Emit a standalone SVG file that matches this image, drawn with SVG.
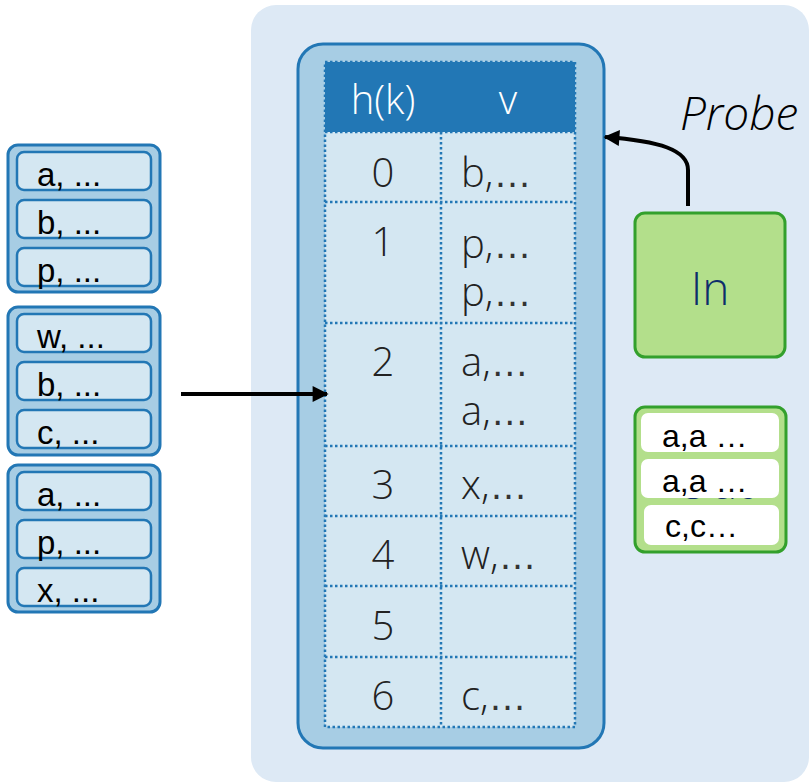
<svg xmlns="http://www.w3.org/2000/svg" width="810" height="783" viewBox="0 0 810 783">
<defs>
<style>
.lst{fill:#a7cde4;stroke:#2277b5;stroke-width:3}
.it{fill:#d4e7f2;stroke:#2277b5;stroke-width:2.5}
.lt{font-family:"Liberation Sans",Arial,sans-serif;font-size:33px;fill:#000}
.cell{fill:#d4e7f2}
.dot{stroke:#2277b5;stroke-width:2.5;stroke-dasharray:2.5 2.5;fill:none}
.tt{font-family:"Open Sans","Liberation Sans",sans-serif;font-weight:300;font-size:40px;fill:#222}
.el{font-family:"Liberation Sans",Arial,sans-serif;font-size:38px;fill:#333}
.hd{font-family:"Open Sans","Liberation Sans",sans-serif;font-weight:300;font-size:40px;fill:#fff}
.gbox{fill:#b3df8b;stroke:#33a02c;stroke-width:3}
.wb{fill:#fff}
.ot{font-family:"Liberation Sans",Arial,sans-serif;font-size:32px;fill:#000}
.conn{stroke:#000;stroke-width:4;fill:none}
</style>
<marker id="ah" viewBox="0 0 10 10" refX="9" refY="5" markerWidth="4.5" markerHeight="4" orient="auto" markerUnits="strokeWidth">
<path d="M0,0 L10,5 L0,10 z" fill="#000"/>
</marker>
</defs>
<rect id="panel" x="251" y="5" width="558" height="777" rx="25" fill="#dde9f5"/>

<g id="list1">
<rect class="lst" x="8" y="145" width="152" height="147" rx="10"/>
<g class="it"><rect x="17" y="152" width="134" height="38" rx="7"/><rect x="17" y="200" width="134" height="38" rx="7"/><rect x="17" y="248" width="134" height="38" rx="7"/></g>
<text class="lt" x="37" y="186">a, ...</text><text class="lt" x="37" y="234">b, ...</text><text class="lt" x="37" y="282">p, ...</text>
</g>
<g id="list2">
<rect class="lst" x="8" y="307" width="152" height="148" rx="10"/>
<g class="it"><rect x="17" y="314" width="134" height="38" rx="7"/><rect x="17" y="362" width="134" height="38" rx="7"/><rect x="17" y="410" width="134" height="38" rx="7"/></g>
<text class="lt" x="37" y="348">w, ...</text><text class="lt" x="37" y="396">b, ...</text><text class="lt" x="37" y="444">c, ...</text>
</g>
<g id="list3">
<rect class="lst" x="8" y="465" width="152" height="147" rx="10"/>
<g class="it"><rect x="17" y="472" width="134" height="38" rx="7"/><rect x="17" y="520" width="134" height="38" rx="7"/><rect x="17" y="568" width="134" height="38" rx="7"/></g>
<text class="lt" x="37" y="506">a, ...</text><text class="lt" x="37" y="554">p, ...</text><text class="lt" x="37" y="602">x, ...</text>
</g>

<g id="hashtable">
<rect x="298" y="44" width="306" height="704" rx="25" fill="#a7cde4" stroke="#2277b5" stroke-width="3"/>
<rect x="325" y="62" width="250" height="70" fill="#2277b5"/>
<rect class="cell" x="325" y="132" width="250" height="595"/>
<rect class="dot" x="325" y="62" width="250" height="665"/>
<path class="dot" d="M325,132H575M325,202H575M325,323H575M325,446H575M325,516H575M325,586H575M325,657H575M441,132V727"/>
<text class="hd" x="383" y="114" text-anchor="middle">h(k)</text>
<text class="hd" x="508" y="114" text-anchor="middle">v</text>
<g class="tt" text-anchor="middle">
<text x="383" y="187">0</text>
<text x="383" y="256">1</text>
<text x="383" y="376">2</text>
<text x="383" y="499">3</text>
<text x="383" y="569">4</text>
<text x="383" y="640">5</text>
<text x="383" y="710">6</text>
</g>
<g class="tt">
<text x="461" y="187">b,<tspan class="el">…</tspan></text>
<text x="461" y="258">p,<tspan class="el">…</tspan></text>
<text x="461" y="306">p,<tspan class="el">…</tspan></text>
<text x="461" y="376">a,<tspan class="el">…</tspan></text>
<text x="461" y="425">a,<tspan class="el">…</tspan></text>
<text x="461" y="499">x,<tspan class="el">…</tspan></text>
<text x="461" y="569">w,<tspan class="el">…</tspan></text>
<text x="461" y="710">c,<tspan class="el">…</tspan></text>
</g>
</g>

<g id="in">
<rect class="gbox" x="635" y="213" width="150" height="144" rx="10"/>
<text x="710" y="305" text-anchor="middle" font-family="'Open Sans','Liberation Sans',sans-serif" font-weight="300" font-size="46" fill="#0d2d6b">In</text>
</g>

<g id="out">
<rect class="gbox" x="635" y="407" width="151" height="145" rx="10"/>
<text x="714" y="499" text-anchor="middle" font-family="'Open Sans','Liberation Sans',sans-serif" font-weight="300" font-size="46" fill="#0d2d6b">Out</text>
<rect class="wb" x="641" y="413" width="138" height="39" rx="7"/>
<rect class="wb" x="641" y="459" width="138" height="39" rx="7"/>
<rect class="wb" x="644" y="505" width="135" height="40" rx="7"/>
<text class="ot" x="662" y="447">a,a …</text>
<text class="ot" x="662" y="492">a,a …</text>
<text class="ot" x="665" y="537">c,c…</text>
</g>

<text id="probe" x="680" y="130" font-family="'Open Sans','Liberation Sans',sans-serif" font-weight="300" font-style="italic" font-size="46" fill="#000">Probe</text>

<g id="connectors">
<path class="conn" d="M181,394H327" marker-end="url(#ah)"/>
<path class="conn" d="M688,206V170C688,150 660,141 605,137" marker-end="url(#ah)"/>
</g>
</svg>
